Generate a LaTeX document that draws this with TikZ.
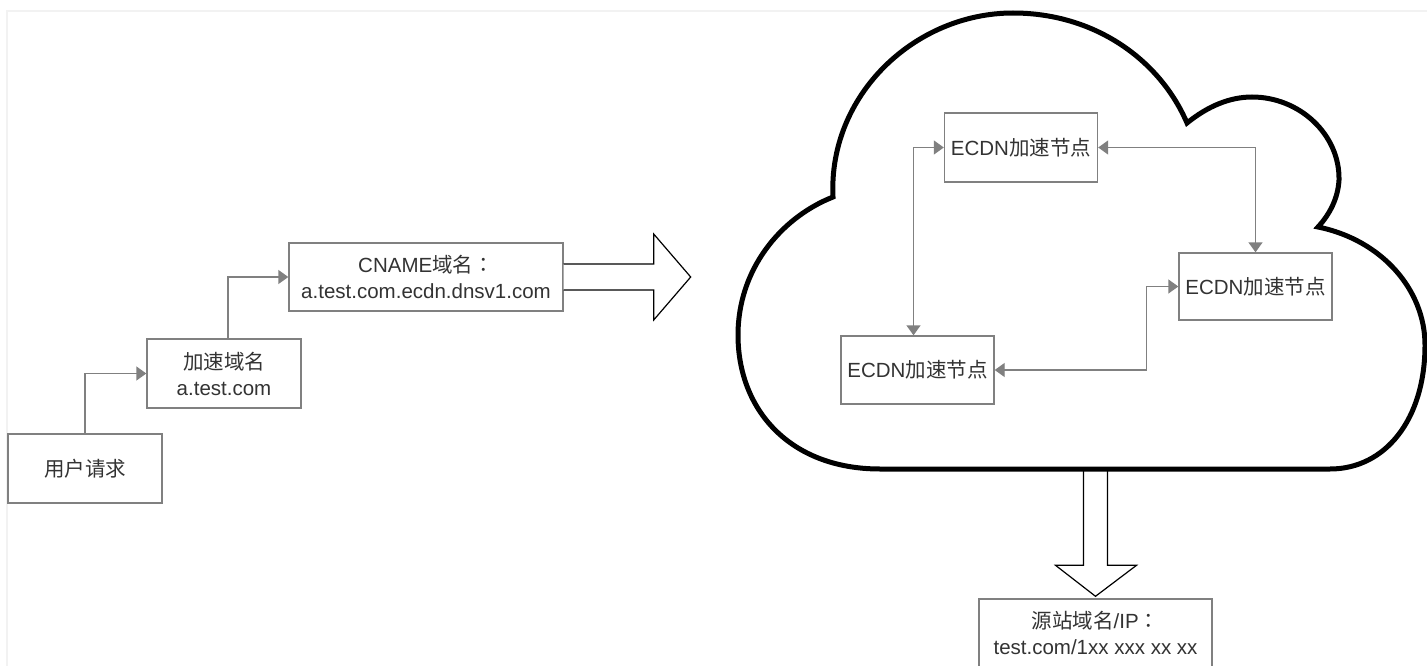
\documentclass[tikz,border=0pt]{standalone}
\usepackage{fontspec}
\setmainfont{Liberation Sans}
\newfontfamily\cjk{Noto Sans CJK SC}
\newfontfamily\cjkpunct{Noto Sans CJK JP}
\usetikzlibrary{arrows.meta,calc}
\definecolor{txt}{HTML}{333333}
\definecolor{edge}{HTML}{808080}
\definecolor{pageline}{HTML}{F2F2F2}
\tikzset{
  box/.style={draw=edge, line width=1.4pt, fill=white, text=txt, align=center,
    inner sep=0pt, font=\fontsize{20.5}{26}\selectfont},
  link/.style={draw=edge, line width=1.4pt, -{Triangle[length=10pt,width=14pt]}},
  blink/.style={draw=edge, line width=1.4pt, {Triangle[length=10pt,width=14pt]}-{Triangle[length=10pt,width=14pt]}},
  blockarrow/.style={draw=black, line width=1.2pt, fill=white, line join=miter},
  cloudline/.style={draw=black, line width=5pt, line join=miter}
}
\begin{document}
\begin{tikzpicture}[x=1pt,y=-1pt]
\useasboundingbox (0,0) rectangle (1427,666);
\fill[white] (0,0) rectangle (1427,666);
% faint page edge
\draw[pageline, line width=2pt] (7,666) -- (7,11) -- (1427,11);

% left nodes
\node[box, minimum width=154pt, minimum height=69pt] (user) at (85,468.5) {\cjk 用户请求};
\node[box, minimum width=154pt, minimum height=69pt] (accel) at (224,373.5) {{\cjk 加速域名}\\a.test.com};
\node[box, minimum width=274pt, minimum height=68pt] (cname) at (426,277) {CNAME{\cjk 域名}{\cjkpunct ：}\\a.test.com.ecdn.dnsv1.com};

\draw[link] (user.north) |- (accel.west);
\draw[link] ([xshift=4pt]accel.north) |- (cname.west);

% block arrow right
\path[blockarrow] ($(cname.east)+(0,-13)$) -- ($(cname.east)+(90,-13)$) -- ($(cname.east)+(90,-43)$)
  -- ($(cname.east)+(127,0)$) -- ($(cname.east)+(90,43)$) -- ($(cname.east)+(90,13)$) -- ($(cname.east)+(0,13)$);

% source node
\node[box, minimum width=233pt, minimum height=68pt] (src) at (1095.5,633) {{\cjk 源站域名}/IP{\cjkpunct ：}\\test.com/1xx xxx xx xx};

% block arrow down
\path[blockarrow] ($(src.north)+(-12,-131)$) -- ($(src.north)+(-12,-33)$) -- ($(src.north)+(-40,-33)$)
  -- ($(src.north)+(0,-2)$) -- ($(src.north)+(41,-33)$) -- ($(src.north)+(12,-33)$) -- ($(src.north)+(12,-131)$);

% cloud
\path[cloudline, fill=white] (880,469) .. controls (790,469) and (738,410) .. (738,335)
  .. controls (738,270) and (780,218) .. (833,197)
  .. controls (828,95) and (915,13) .. (1013,13)
  .. controls (1095,13) and (1160,60) .. (1187,123)
  .. controls (1208,106) and (1230,97) .. (1252,97)
  .. controls (1300,97) and (1340,135) .. (1339,180)
  .. controls (1338,198) and (1330,214) .. (1318,227)
  .. controls (1382,240) and (1425,290) .. (1425,345)
  .. controls (1425,420) and (1385,469) .. (1330,469)
  -- cycle;

% ECDN nodes
\node[box, minimum width=153pt, minimum height=69pt] (top) at (1021,147.5) {ECDN{\cjk 加速节点}};
\node[box, minimum width=153pt, minimum height=67pt] (right) at (1255.5,286.5) {ECDN{\cjk 加速节点}};
\node[box, minimum width=153pt, minimum height=68pt] (left) at (917.5,370) {ECDN{\cjk 加速节点}};

\draw[blink] (top.west) -| ([xshift=-4pt]left.north);
\draw[blink] (top.east) -| (right.north);
\draw[blink] (left.east) -- ++(152,0) |- (right.west);
\end{tikzpicture}
\end{document}
